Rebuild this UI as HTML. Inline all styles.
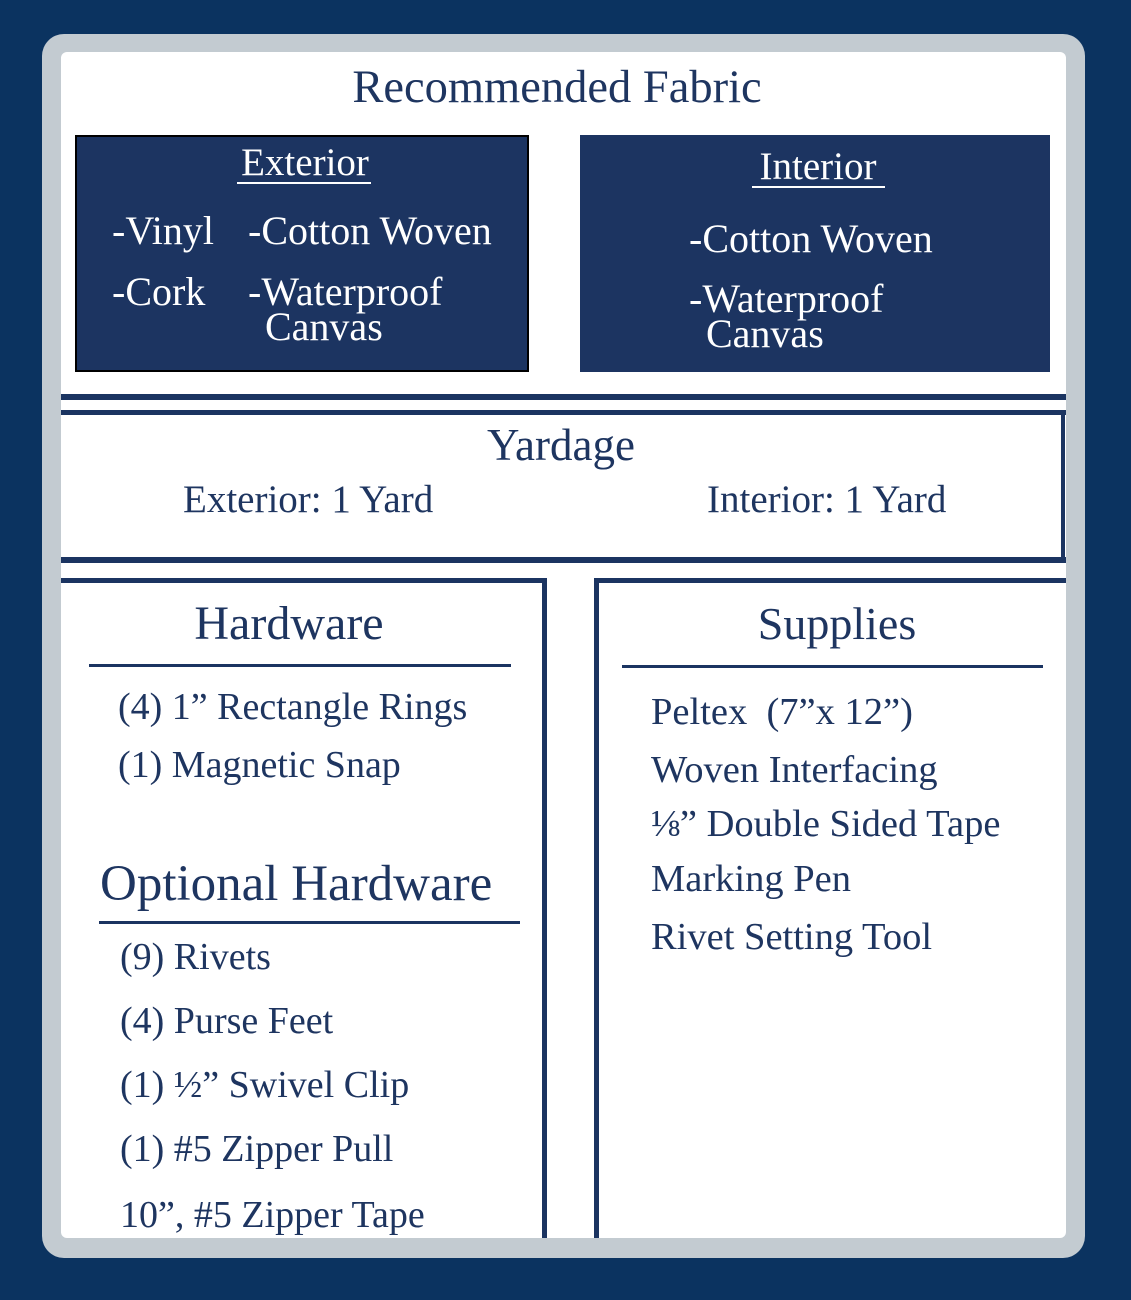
<!DOCTYPE html>
<html><head><meta charset="utf-8"><style>
body{margin:0;width:1131px;height:1300px;background:#0b3360;position:relative;overflow:hidden;font-family:"Liberation Serif",serif;}
.a{position:absolute;white-space:nowrap;line-height:1;}
.c{transform:translateX(-50%);}
.n{color:#1e3560}
.w{color:#fff}
.r{position:absolute;background:#1b3461}
</style></head><body>
<div style="position:absolute;left:42px;top:34px;width:1043px;height:1224px;background:#c3cbd1;border-radius:22px"></div>
<div style="position:absolute;left:61px;top:52px;width:1005px;height:1186px;background:#fff;border-radius:6px"></div>

<div class="a c n" style="left:557px;top:65px;font-size:46.5px">Recommended Fabric</div>

<div style="position:absolute;left:75px;top:135px;width:450px;height:233px;background:#1c3461;border:2px solid #000"></div>
<div style="position:absolute;left:580px;top:135px;width:470px;height:237px;background:#1c3461"></div>

<div class="a c w" style="left:305px;top:143px;font-size:39px">Exterior</div>
<div class="r" style="left:237px;top:182px;width:134px;height:2px;background:#fff"></div>
<div class="a w" style="left:112px;top:211px;font-size:40px">-Vinyl</div>
<div class="a w" style="left:248px;top:211px;font-size:40px">-Cotton Woven</div>
<div class="a w" style="left:112px;top:272px;font-size:40px">-Cork</div>
<div class="a w" style="left:248px;top:272px;font-size:40px">-Waterproof</div>
<div class="a w" style="left:265px;top:307px;font-size:40px">Canvas</div>

<div class="a c w" style="left:818px;top:147px;font-size:39px">Interior</div>
<div class="r" style="left:752px;top:186px;width:133px;height:2px;background:#fff"></div>
<div class="a w" style="left:689px;top:219px;font-size:40px">-Cotton Woven</div>
<div class="a w" style="left:689px;top:279px;font-size:40px">-Waterproof</div>
<div class="a w" style="left:706px;top:314px;font-size:40px">Canvas</div>

<div class="r" style="left:61px;top:394px;width:1005px;height:6px"></div>
<div class="r" style="left:61px;top:410px;width:1005px;height:5px"></div>
<div class="r" style="left:1061px;top:410px;width:4px;height:152px"></div>
<div class="r" style="left:61px;top:557px;width:1005px;height:6px"></div>
<div class="a c n" style="left:561px;top:423px;font-size:45px">Yardage</div>
<div class="a n" style="left:183px;top:480px;font-size:39px">Exterior: 1 Yard</div>
<div class="a n" style="left:707px;top:480px;font-size:39px">Interior: 1 Yard</div>

<div class="r" style="left:61px;top:578px;width:486px;height:5px"></div>
<div class="r" style="left:542px;top:578px;width:5px;height:660px"></div>
<div class="r" style="left:594px;top:578px;width:472px;height:5px"></div>
<div class="r" style="left:594px;top:578px;width:5px;height:660px"></div>

<div class="a c n" style="left:289px;top:600px;font-size:48px">Hardware</div>
<div class="r" style="left:89px;top:664px;width:422px;height:3px"></div>
<div class="a n" style="left:118px;top:688px;font-size:38px">(4) 1” Rectangle Rings</div>
<div class="a n" style="left:118px;top:746px;font-size:38px">(1) Magnetic Snap</div>
<div class="a n" style="left:100px;top:859px;font-size:51px">Optional Hardware</div>
<div class="r" style="left:99px;top:921px;width:421px;height:3px"></div>
<div class="a n" style="left:120px;top:938px;font-size:38px">(9) Rivets</div>
<div class="a n" style="left:120px;top:1002px;font-size:38px">(4) Purse Feet</div>
<div class="a n" style="left:120px;top:1066px;font-size:38px">(1) ½” Swivel Clip</div>
<div class="a n" style="left:120px;top:1130px;font-size:38px">(1) #5 Zipper Pull</div>
<div class="a n" style="left:120px;top:1196px;font-size:38px">10”, #5 Zipper Tape</div>

<div class="a c n" style="left:837px;top:601px;font-size:46px">Supplies</div>
<div class="r" style="left:622px;top:665px;width:421px;height:3px"></div>
<div class="a n" style="left:651px;top:693px;font-size:38.5px">Peltex&nbsp; (7”x 12”)</div>
<div class="a n" style="left:651px;top:751px;font-size:38.5px">Woven Interfacing</div>
<div class="a n" style="left:651px;top:805px;font-size:38.5px">⅛” Double Sided Tape</div>
<div class="a n" style="left:651px;top:860px;font-size:38.5px">Marking Pen</div>
<div class="a n" style="left:651px;top:918px;font-size:38.5px">Rivet Setting Tool</div>
</body></html>
